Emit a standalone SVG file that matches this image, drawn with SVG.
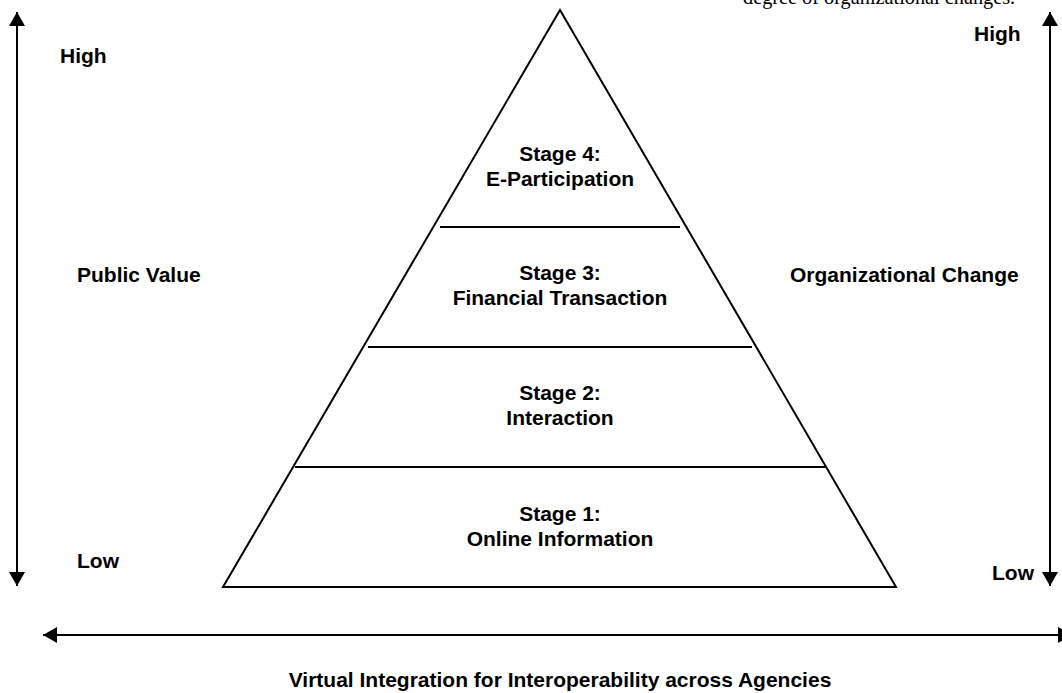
<svg xmlns="http://www.w3.org/2000/svg" width="1062" height="693" viewBox="0 0 1062 693">
<style>
.lbl{font-family:"Liberation Sans",Arial,sans-serif;font-weight:bold;font-size:21px;fill:#000}
.mid{text-anchor:middle}
.ln{stroke:#000;stroke-width:2;fill:none}
.note{font-family:"Liberation Serif","Times New Roman",serif;font-size:20.3px;fill:#000}
</style>
<defs>
<marker id="ah" viewBox="0 0 14 16" refX="14" refY="8" markerWidth="14" markerHeight="16" markerUnits="userSpaceOnUse" orient="auto">
<path d="M0,0 L14,8 L0,16 Z" fill="#000"/>
</marker>
</defs>
<rect width="1062" height="693" fill="#fff"/>
<text class="note" x="743" y="4">degree of organizational changes.</text>
<g id="connectors">
<line class="ln" x1="17" y1="300" x2="17" y2="12" marker-end="url(#ah)"/>
<line class="ln" x1="17" y1="300" x2="17" y2="586" marker-end="url(#ah)"/>
<line class="ln" x1="1050" y1="300" x2="1050" y2="12" marker-end="url(#ah)"/>
<line class="ln" x1="1050" y1="300" x2="1050" y2="586" marker-end="url(#ah)"/>
<line class="ln" x1="560" y1="635" x2="43" y2="635" marker-end="url(#ah)"/>
<line class="ln" x1="560" y1="635" x2="1072" y2="635" marker-end="url(#ah)"/>
</g>
<g id="pyramid">
<polygon class="ln" points="560,10 896,587 223,587"/>
<line class="ln" x1="440" y1="227" x2="680" y2="227"/>
<line class="ln" x1="368" y1="347" x2="752" y2="347"/>
<line class="ln" x1="295" y1="467" x2="826" y2="467"/>
</g>
<g id="stage4">
<text class="lbl mid" x="560" y="161">Stage 4:</text>
<text class="lbl mid" x="560" y="186">E-Participation</text>
</g>
<g id="stage3">
<text class="lbl mid" x="560" y="280">Stage 3:</text>
<text class="lbl mid" x="560" y="305">Financial Transaction</text>
</g>
<g id="stage2">
<text class="lbl mid" x="560" y="400">Stage 2:</text>
<text class="lbl mid" x="560" y="425">Interaction</text>
</g>
<g id="stage1">
<text class="lbl mid" x="560" y="521">Stage 1:</text>
<text class="lbl mid" x="560" y="546">Online Information</text>
</g>
<g id="left-axis">
<text class="lbl" x="60" y="63">High</text>
<text class="lbl" x="77" y="282">Public Value</text>
<text class="lbl" x="77" y="568">Low</text>
</g>
<g id="right-axis">
<text class="lbl" x="974" y="41">High</text>
<text class="lbl" x="790" y="282">Organizational Change</text>
<text class="lbl" x="992" y="580">Low</text>
</g>
<g id="bottom-axis">
<text class="lbl mid" x="560" y="687">Virtual Integration for Interoperability across Agencies</text>
</g>
</svg>
